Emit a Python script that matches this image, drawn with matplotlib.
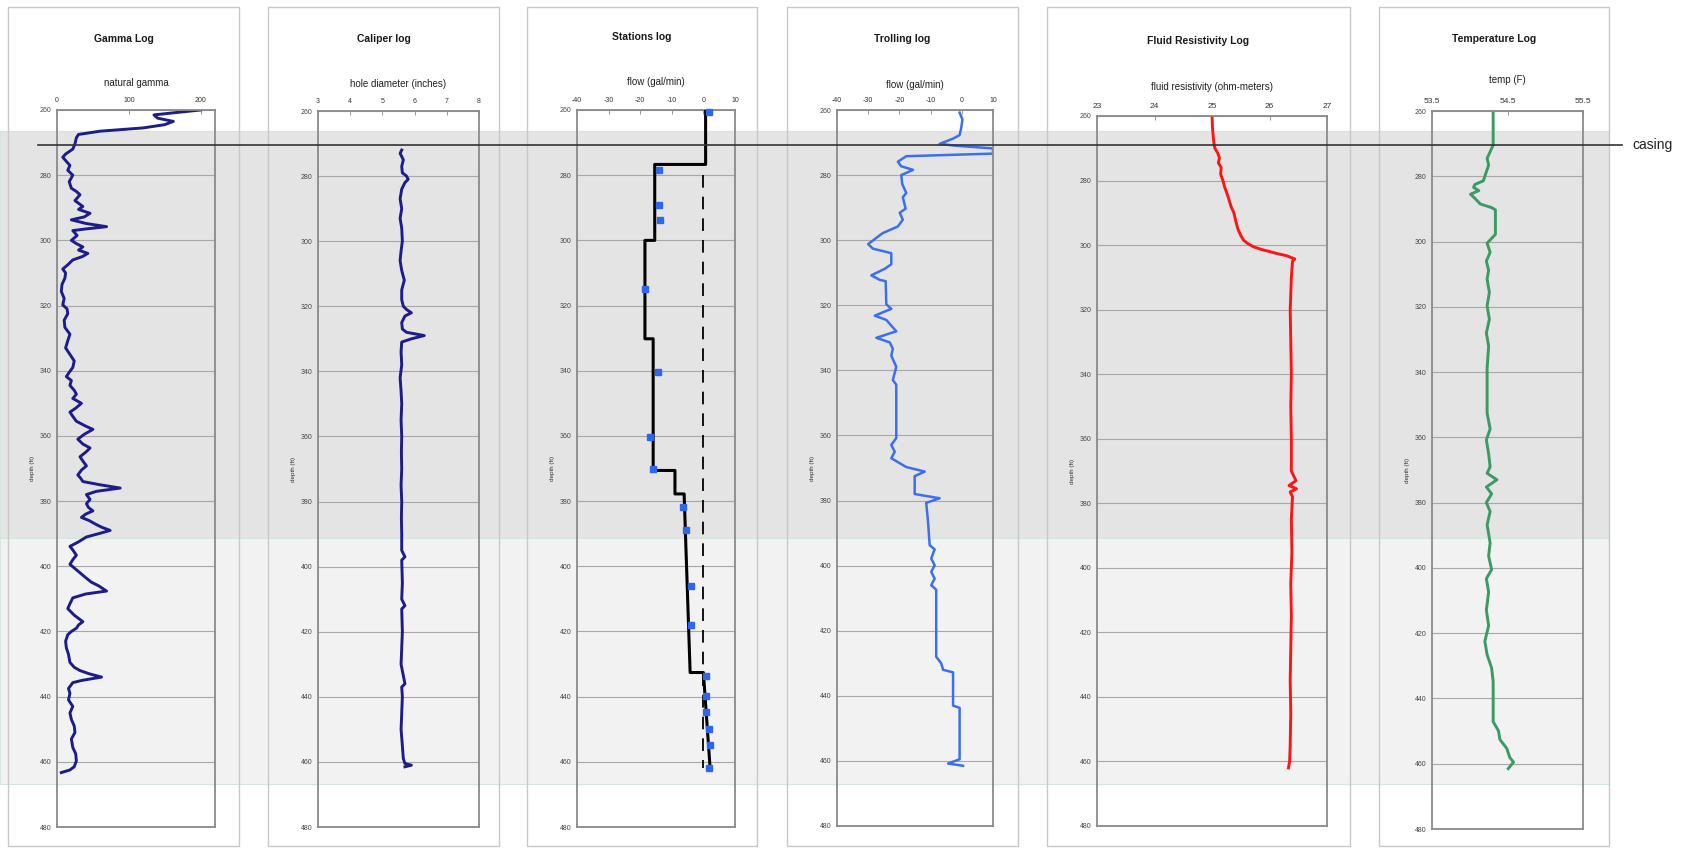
import matplotlib.pyplot as plt
import matplotlib.transforms as mtransforms
from matplotlib.patches import Rectangle
from matplotlib.lines import Line2D

plt.rcParams['font.family'] = ['Liberation Sans', 'DejaVu Sans']

W, H = 1688, 848

depth_ticks = list(range(260, 481, 20))

# natural gamma (counts)
gamma_depth = [260, 261.5, 262.5, 263.5, 264.5, 265.5, 266.5, 267.5, 268.5, 270.4, 272, 273.5,
               274.5, 276, 277, 278.5, 280, 282, 284, 285, 286, 287.8, 289.6, 290.5, 291.7,
               292.8, 293.7, 294.8, 295.8, 296.5, 297, 298.5, 300, 301, 302, 303, 304, 305,
               306, 307.5, 308.8, 310, 311.6, 313.5, 315.7, 317.8, 319.8, 321, 322.5, 324.5,
               326.7, 328.8, 330.8, 333, 335, 337, 339, 340.5, 341.8, 343, 344.5, 346, 347.2,
               348.5, 350, 351.5, 352.7, 354, 355.5, 357, 358, 359.5, 361, 362.5, 363.7, 365,
               366.4, 368, 369.2, 370.5, 372, 373, 374, 375, 376, 377, 378, 379.5, 380.8, 382,
               383, 384, 385, 386, 387, 388, 389, 390, 391, 392.5, 393.9, 395, 396.6, 398,
               399.4, 400.5, 402, 403.5, 404.9, 406, 407.6, 408.5, 409.7, 411.5, 413, 415, 417,
               418, 419, 420, 421, 423, 425, 427, 429.5, 431, 432, 433, 434, 435, 435.7, 437.5,
               439, 441, 443, 445, 447, 449, 451, 453, 455.6, 457.5, 459.7, 461.5, 462.5, 463.3]
gamma_value = [200, 135, 140, 162, 150, 120, 60, 30, 27, 25, 22, 12,
               8, 14, 18, 15, 22, 17, 20, 27, 32, 25, 36, 30, 46,
               38, 20, 40, 69, 40, 22, 28, 20, 27, 36, 30, 43, 35,
               22, 15, 8, 12, 11, 7, 6, 10, 8, 14, 15, 10,
               11, 18, 15, 12, 18, 24, 22, 17, 13, 20, 18, 24, 27,
               22, 34, 26, 18, 22, 27, 40, 50, 38, 29, 36, 46, 40,
               32, 37, 41, 34, 29, 33, 36, 60, 88, 55, 41, 46, 41, 44,
               50, 40, 34, 45, 53, 62, 74, 58, 41, 30, 18, 22, 27, 22,
               18, 24, 32, 40, 48, 58, 69, 40, 22, 18, 15, 24, 36,
               30, 27, 20, 15, 12, 13, 16, 18, 24, 32, 45, 62, 35, 22, 16,
               18, 16, 22, 18, 20, 24, 25, 20, 22, 26, 27, 24, 18, 6]

# hole diameter (inches)
caliper_depth = [272, 273, 275, 277, 279, 280, 281, 282, 284, 287, 290, 293, 296, 300, 303,
                 306, 309, 312, 315, 318, 320, 321, 322, 323, 325, 327, 328, 329, 330, 331,
                 334, 338, 342, 346, 350, 355, 360, 365, 370, 375, 380, 385, 390, 395, 397,
                 398, 405, 410, 412, 413, 420, 425, 430, 436, 437, 440, 445, 450, 455, 459,
                 460.5, 461, 461.5]
caliper_value = [5.6, 5.55, 5.65, 5.6, 5.62, 5.75, 5.8, 5.7, 5.6, 5.55, 5.6, 5.55, 5.6, 5.62, 5.58,
                 5.55, 5.6, 5.68, 5.6, 5.6, 5.65, 5.75, 5.9, 5.7, 5.6, 5.62, 5.75, 6.3, 5.9, 5.6,
                 5.58, 5.6, 5.55, 5.58, 5.6, 5.58, 5.6, 5.59, 5.6, 5.58, 5.6, 5.59, 5.6, 5.6, 5.7,
                 5.6, 5.62, 5.6, 5.7, 5.6, 5.62, 5.6, 5.58, 5.7, 5.6, 5.62, 5.6, 5.58, 5.62, 5.65,
                 5.7, 5.9, 5.7]

# station measurements and interpreted flow profile (gal/min)
station_depth = [260.5, 278.4, 289.1, 293.9, 315, 340.3, 360.2, 370, 381.8, 389, 406, 418,
                 433.8, 439.7, 444.8, 449.9, 454.8, 461.9]
station_flow = [1.75, -14.1, -14.1, -13.6, -18.5, -14.3, -17.0, -15.9, -6.6, -5.5, -3.9, -4.0,
                0.8, 0.9, 0.9, 1.9, 2.0, 1.9]
profile_depth = [260, 276.7, 276.7, 300, 300, 330.2, 330.2, 370.6, 370.6, 377.8, 377.8,
                 432.6, 432.6, 461.6]
profile_flow = [0.7, 0.7, -15.4, -15.4, -18.5, -18.5, -15.9, -15.9, -9.0, -9.0, -6.1,
                -4.2, 0.0, 2.1]
zero_flow_span = [280, 462]

# trolling flow (gal/min)
troll_depth = [260.8, 262.9, 265.6, 267.7, 268.8, 270.4, 271, 271.8, 273.4, 274.2, 275.9, 277.3,
               278.4, 280, 282.7, 285.5, 286.8, 290.3, 291.6, 293.7, 295.8, 297.8, 298.5,
               301.2, 302.6, 304, 307.4, 308.8, 310.8, 312.2, 312.6, 319.7, 321.1, 323.2,
               324.5, 328, 330, 331.4, 333.4, 335.5, 338.9, 343, 344.4, 360.8, 362.9, 365,
               367, 369.7, 371.1, 372.5, 378, 379.3, 380.7, 386.8, 393.7, 395, 397.8, 399.9,
               401.9, 404, 406, 407.4, 428, 430, 432, 432.8, 443, 443.7, 459.5, 460.8, 461.5]
troll_flow = [-0.7, 0.2, -0.2, -0.7, -2.8, -7.1, -1.8, 10, 10, -17.8, -20.5, -19.4,
              -15.6, -19.4, -19.1, -17.8, -18.9, -18.0, -19.9, -18.9, -20.5, -25.3, -26.3,
              -30.0, -28.5, -22.6, -22.6, -24.7, -29.0, -26.3, -24.4, -24.2, -22.6, -27.9,
              -24.2, -21.0, -27.4, -23.1, -22.1, -22.6, -21.0, -22.1, -21.0, -21.0, -22.6, -21.5,
              -22.6, -17.8, -11.9, -15.1, -15.1, -7.1, -11.4, -10.8, -10.3, -8.7, -9.8, -8.7,
              -9.8, -8.7, -9.8, -8.2, -8.2, -6.6, -6.0, -2.8, -2.8, -0.7, -0.7, -4.4, 0.4]

# fluid resistivity (ohm-meters)
fluid_depth = [260, 264, 268, 270, 271.5, 273, 274.5, 276, 278, 280, 282, 285, 288, 290, 293,
               295, 297, 298.5, 299.5, 300.5, 301.3, 302, 302.7, 303.3, 304.3, 305, 310, 320,
               330, 340, 350, 360, 370, 373, 374.5, 375.5, 376.5, 378, 385, 395, 405, 415,
               425, 435, 445, 455, 460, 462]
fluid_value = [25.0, 25.01, 25.03, 25.05, 25.1, 25.13, 25.11, 25.16, 25.15, 25.19, 25.22, 25.28,
               25.33, 25.38, 25.42, 25.45, 25.5, 25.55, 25.62, 25.72, 25.85, 26.0, 26.15, 26.3,
               26.44, 26.4, 26.38, 26.36, 26.37, 26.38, 26.37, 26.38, 26.38, 26.46, 26.34,
               26.47, 26.36, 26.4, 26.38, 26.39, 26.37, 26.38, 26.37, 26.36, 26.37, 26.36,
               26.35, 26.33]

# fluid temperature (F)
temp_depth = [260, 270.4, 272.5, 274.5, 276.6, 278.6, 281.4, 282.5, 283.4, 284.4, 285.5, 286.8,
              288.5, 289.6, 290.3, 297.8, 300.5, 303.3, 306, 308.8, 311.5, 315.6, 319.7, 323.8,
              328, 332, 338.9, 352.6, 357.4, 360.8, 365, 369, 371, 373, 375.2, 377.3, 380,
              382.7, 386.8, 392.3, 396.4, 400.5, 403.3, 407.4, 412.9, 417.7, 422.5, 426.6,
              430.7, 434.8, 447.1, 449.9, 452.6, 455.3, 458.1, 459.5, 461.5]
temp_value = [54.31, 54.31, 54.27, 54.23, 54.25, 54.22, 54.18, 54.07, 54.05, 54.12, 54.01, 54.07,
              54.14, 54.29, 54.34, 54.34, 54.23, 54.27, 54.22, 54.25, 54.23, 54.26, 54.23, 54.26,
              54.22, 54.25, 54.23, 54.23, 54.27, 54.22, 54.25, 54.27, 54.23, 54.36, 54.22, 54.29,
              54.22, 54.27, 54.23, 54.27, 54.25, 54.29, 54.22, 54.25, 54.22, 54.25, 54.2, 54.23,
              54.29, 54.31, 54.31, 54.38, 54.4, 54.49, 54.53, 54.58, 54.51]

# depth zones shaded across all tracks, and the casing bottom
zone_top = [266.4, 391.3]
zone_bottom = [391.3, 466.7]
zone_color = ['#e4e4e4', '#f2f2f2']
casing_depth = 270.7


def fig_box(left, top, right, bottom):
    return [left / W, 1 - bottom / H, (right - left) / W, (bottom - top) / H]


tracks = [
    dict(title='Gamma Log', label='natural gamma', frame=(8, 239), axes=(57, 110, 215, 827),
         xlim=(0, 220), xticks=[0, 100, 200], fmt='{:g}', tick_size=5,
         title_y=39, label_y=83),
    dict(title='Caliper log', label='hole diameter (inches)', frame=(268, 499),
         axes=(318, 111, 479, 827), xlim=(3, 8), xticks=[3, 4, 5, 6, 7, 8], fmt='{:g}',
         tick_size=5, title_y=39, label_y=84),
    dict(title='Stations log', label='flow (gal/min)', frame=(527, 757), axes=(577, 110, 735, 827),
         xlim=(-40, 10), xticks=[-40, -30, -20, -10, 0, 10], fmt='{:g}', tick_size=5,
         title_y=37, label_y=82),
    dict(title='Trolling log', label='flow (gal/min)', frame=(787, 1018), axes=(837, 110, 993, 826),
         xlim=(-40, 10), xticks=[-40, -30, -20, -10, 0, 10], fmt='{:g}', tick_size=5,
         title_y=39, label_y=85),
    dict(title='Fluid Resistivity Log', label='fluid resistivity (ohm-meters)', frame=(1047, 1350),
         axes=(1097, 116, 1327, 826), xlim=(23, 27), xticks=[23, 24, 25, 26, 27], fmt='{:g}',
         tick_size=6, title_y=41, label_y=87),
    dict(title='Temperature Log', label='temp (F)', frame=(1379, 1609), axes=(1432, 111, 1583, 829),
         xlim=(53.5, 55.5), xticks=[53.5, 54.5, 55.5], fmt='{:.1f}', tick_size=6,
         title_y=39, label_y=80),
]

fig = plt.figure(figsize=(W / 100, H / 100), dpi=100)

axes = []
for t in tracks:
    fl, fr = t['frame']
    fig.add_artist(Rectangle((fl / W, 1 - 846 / H), (fr - fl) / W, (846 - 7) / H,
                             transform=fig.transFigure, fill=False, edgecolor='#c8c8c8',
                             lw=1, zorder=2))
    l, tp, r, b = t['axes']
    ax = fig.add_axes(fig_box(l, tp, r, b), facecolor='none')
    ax.set_xlim(*t['xlim'])
    ax.set_ylim(480, 260)
    ax.set_yticks(depth_ticks)
    ax.set_yticklabels([str(d) for d in depth_ticks])
    ax.set_xticks(t['xticks'])
    ax.set_xticklabels([t['fmt'].format(v) for v in t['xticks']])
    ax.xaxis.tick_top()
    ax.tick_params(axis='x', direction='in', length=3, width=0.6, color='#888888',
                   labelsize=t['tick_size'], labelcolor='#333333', pad=4)
    ax.tick_params(axis='y', length=0, labelsize=5, labelcolor='#444444', pad=4)
    ax.grid(axis='y', color='#a8a8a8', lw=0.8)
    ax.set_axisbelow(True)
    for s in ax.spines.values():
        s.set_color('#8a8a8a')
        s.set_linewidth(1.3)
    ax.set_ylabel('depth (ft)', fontsize=4.5, color='#333333', labelpad=3)
    fig.text((fl + fr) / 2 / W, 1 - t['title_y'] / H, t['title'], ha='center', va='center',
             fontsize=7.5, fontweight='bold', color='#1a1a1a')
    fig.text((l + r) / 2 / W, 1 - t['label_y'] / H, t['label'], ha='center', va='center',
             fontsize=7, color='#222222')
    axes.append(ax)

gamma_ax, caliper_ax, station_ax, troll_ax, fluid_ax, temp_ax = axes

gamma_ax.plot(gamma_value, gamma_depth, color='#1c1c8a', lw=2.1)
caliper_ax.plot(caliper_value, caliper_depth, color='#1c1c8a', lw=2.1)

station_ax.plot([0, 0], zero_flow_span, color='black', lw=1.3, ls=(0, (7, 5)))
station_ax.plot(profile_flow, profile_depth, color='black', lw=2.2, zorder=3)
station_ax.plot(station_flow, station_depth, ls='none', marker='s', ms=4.5,
                color='#2f66ee', zorder=4, clip_on=False)

troll_ax.plot(troll_flow, troll_depth, color='#3b6ff0', lw=1.8)
fluid_ax.plot(fluid_value, fluid_depth, color='#ff1414', lw=2.1)
temp_ax.plot(temp_value, temp_depth, color='#3c9a62', lw=2.1)

# shaded zones span the whole figure width, positioned in depth units
zone_tf = mtransforms.blended_transform_factory(fig.transFigure, gamma_ax.transData)
for top, bottom, c in zip(zone_top, zone_bottom, zone_color):
    fig.add_artist(Rectangle((0, top), 1609 / W, bottom - top, transform=zone_tf,
                             facecolor=c, edgecolor='#d3e8da', lw=0.8, zorder=-1))

fig.add_artist(Line2D([38 / W, 1622 / W], [casing_depth, casing_depth], transform=zone_tf,
                      color='#333333', lw=1.2, zorder=5))
fig.text(1632 / W, casing_depth, 'casing', transform=zone_tf, fontsize=10, va='center',
         ha='left', color='#222222')

fig.savefig('out.png', dpi=100, facecolor='white')
